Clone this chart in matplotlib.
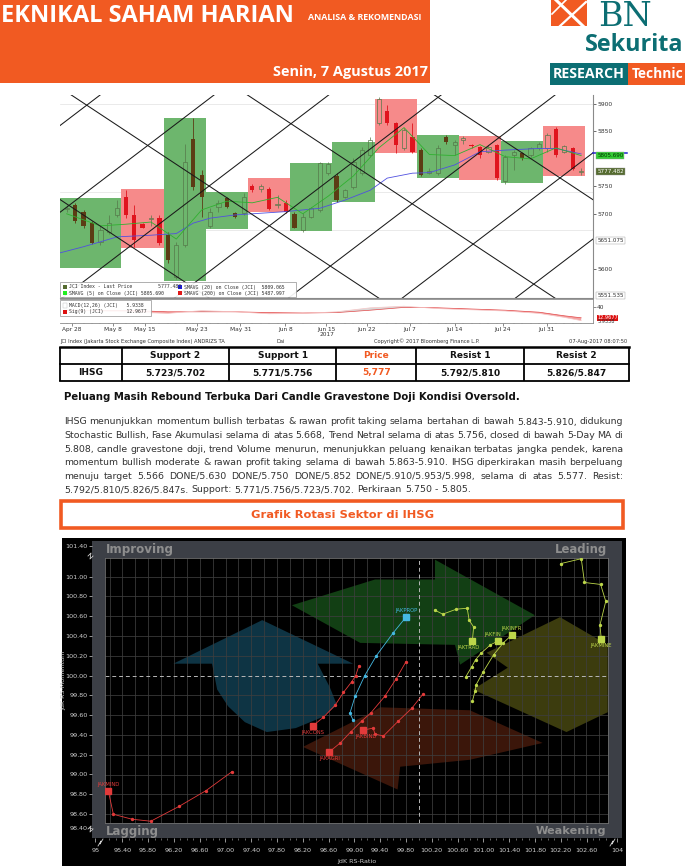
import numpy as np
import matplotlib
matplotlib.use("Agg")
import matplotlib.pyplot as plt
from matplotlib.patches import Rectangle, Polygon

W, H = 685, 866
ORANGE = "#f15a22"
TEAL = "#0c6e73"

# ---------------- IHSG daily candles (27 Apr - 7 Aug 2017), day index 0..61
opens = [5709, 5716, 5704, 5683, 5649, 5667, 5698, 5731, 5698, 5681, 5691, 5692, 5661, 5585, 5643, 5837,
         5771, 5677, 5713, 5728, 5701, 5701, 5751, 5746, 5745, 5716, 5719, 5700, 5670, 5695, 5707, 5775,
         5768, 5731, 5749, 5774, 5807, 5865, 5888, 5865, 5819, 5840, 5816, 5774, 5774, 5840, 5825, 5835,
         5826, 5821, 5813, 5825, 5759, 5807, 5810, 5807, 5819, 5819, 5854, 5813, 5819, 5776]
highs = [5716, 5719, 5707, 5686, 5677, 5698, 5725, 5743, 5716, 5683, 5698, 5698, 5667, 5649, 5828, 5874,
         5780, 5710, 5725, 5731, 5704, 5737, 5755, 5755, 5749, 5734, 5725, 5704, 5701, 5713, 5795, 5795,
         5774, 5746, 5801, 5822, 5840, 5913, 5898, 5868, 5856, 5865, 5819, 5783, 5825, 5843, 5834, 5842,
         5828, 5823, 5825, 5828, 5807, 5816, 5813, 5822, 5831, 5847, 5859, 5825, 5822, 5783]
lows = [5704, 5683, 5674, 5645, 5643, 5664, 5695, 5692, 5640, 5674, 5677, 5643, 5610, 5582, 5640, 5743,
        5695, 5674, 5704, 5710, 5692, 5698, 5740, 5740, 5707, 5710, 5702, 5674, 5667, 5692, 5704, 5770,
        5722, 5728, 5746, 5771, 5804, 5862, 5862, 5810, 5816, 5810, 5769, 5772, 5771, 5828, 5807, 5828,
        5819, 5801, 5810, 5762, 5755, 5780, 5798, 5804, 5816, 5813, 5804, 5810, 5780, 5771]
closes = [5711, 5686, 5677, 5646, 5670, 5683, 5710, 5698, 5652, 5675, 5692, 5646, 5616, 5643, 5795, 5749,
          5731, 5704, 5719, 5713, 5694, 5731, 5743, 5751, 5709, 5716, 5704, 5675, 5695, 5710, 5792, 5790,
          5725, 5743, 5795, 5816, 5834, 5910, 5865, 5825, 5853, 5813, 5771, 5778, 5819, 5830, 5831, 5838,
          5823, 5807, 5822, 5765, 5804, 5813, 5801, 5819, 5828, 5843, 5807, 5823, 5782, 5777]

# time/price zones
zone_edges = [-1.5, 6.5, 11.5, 16.5, 21.5, 26.5, 31.5, 36.5, 41.5, 46.5, 51.5, 56.5, 61.5]
zone_top = [5728, 5746, 5875, 5739, 5766, 5793, 5831, 5910, 5843, 5842, 5833, 5860]
zone_bottom = [5601, 5637, 5578, 5672, 5703, 5669, 5721, 5810, 5766, 5762, 5757, 5769]
zone_kind = ["up", "down", "up", "up", "down", "up", "up", "down", "up", "down", "up", "down"]

sma5_day = [0, 4, 7, 10, 13, 16, 19, 22, 25, 28, 31, 34, 37, 40, 43, 46, 49, 52, 55, 58, 61]
sma5 = [5700, 5678, 5681, 5685, 5654, 5707, 5723, 5720, 5730, 5700, 5732, 5769, 5820, 5857, 5808,
        5806, 5826, 5804, 5800, 5820, 5806]
sma20_day = [-1, 2, 6, 10, 13, 15, 17, 20, 23, 26, 28, 30, 33, 36, 38, 41, 43, 46, 49, 52, 56, 58, 61]
sma20 = [5628, 5640, 5658, 5661, 5664, 5683, 5692, 5698, 5701, 5704, 5707, 5710, 5725, 5743, 5765,
         5774, 5775, 5789, 5813, 5816, 5819, 5819, 5809]

# gann style trend lines: price at day 0 and slope (points per day)
gann_up_start = [5870, 5712, 5553, 5397, 5239, 5081, 4924]
gann_up_step = 11.7
gann_down_start = [5718, 5922, 6134, 6359]
gann_down_step = -10.15

macd_day = [0, 4, 8, 12, 16, 20, 24, 28, 32, 36, 40, 44, 48, 52, 56, 59, 61]
macd = [33, 30, 27, 24, 31, 28, 23, 24, 28, 38, 42, 36, 33, 30, 24, 14, 5.93]
macd_sig = [31, 31, 31, 28, 28, 28, 26, 25, 26, 32, 39, 38, 35, 32, 27, 18, 12.97]

date_day = [0.6, 5.5, 9.3, 15.4, 20.6, 25.9, 30.8, 35.6, 40.7, 46.0, 51.7, 56.9]
date_label = ["Apr 28", "May 8", "May 15", "May 23", "May 31", "Jun 8", "Jun 15", "Jun 22",
              "Jul 7", "Jul 14", "Jul 24", "Jul 31"]

# ---------------- table + text
table_head = ["", "Support 2", "Support 1", "Price", "Resist 1", "Resist 2"]
table_row = ["IHSG", "5.723/5.702", "5.771/5.756", "5,777", "5.792/5.810", "5.826/5.847"]

title = "Peluang Masih Rebound Terbuka Dari Candle Gravestone Doji Kondisi Oversold."
paragraph = [
    "IHSG menunjukkan momentum bullish terbatas & rawan profit taking selama bertahan di bawah 5.843-5.910, didukung",
    "Stochastic Bullish, Fase Akumulasi selama di atas 5.668, Trend Netral selama di atas 5.756, closed di bawah 5-Day MA di",
    "5.808, candle gravestone doji, trend Volume menurun, menunjukkan peluang kenaikan terbatas jangka pendek, karena",
    "momentum bullish moderate & rawan profit taking selama di bawah 5.863-5.910. IHSG diperkirakan masih berpeluang",
    "menuju target 5.566 DONE/5.630 DONE/5.750 DONE/5.852 DONE/5.910/5.953/5.998, selama di atas 5.577. Resist:",
    "5.792/5.810/5.826/5.847s. Support: 5.771/5.756/5.723/5.702. Perkiraan 5.750 - 5.805.",
]

# ---------------- sector rotation (JdK RS-Ratio, JdK RS-Momentum), oldest -> latest
prop_x = [98.98, 98.93, 99.01, 99.16, 99.34, 99.60, 99.80]
prop_y = [99.55, 99.62, 99.79, 100.00, 100.20, 100.43, 100.59]
cons_x = [99.07, 99.02, 98.96, 98.83, 98.70, 98.52, 98.35]
cons_y = [100.10, 100.00, 99.94, 99.83, 99.70, 99.58, 99.49]
bind_x = [100.06, 99.89, 99.68, 99.45, 99.32, 99.29, 99.14]
bind_y = [99.81, 99.67, 99.54, 99.39, 99.41, 99.47, 99.45]
agri_x = [99.80, 99.65, 99.47, 99.25, 99.11, 98.94, 98.78, 98.61]
agri_y = [100.14, 99.97, 99.79, 99.62, 99.54, 99.43, 99.32, 99.23]
mind_x = [97.10, 96.70, 96.28, 95.84, 95.55, 95.26, 95.18]
mind_y = [99.03, 98.84, 98.68, 98.53, 98.55, 98.60, 98.84]
mine_x = [102.20, 102.52, 102.57, 102.82, 102.90, 102.81, 102.83]
mine_y = [101.13, 101.18, 100.94, 100.92, 100.75, 100.51, 100.37]
trad_x = [100.25, 100.37, 100.58, 100.75, 100.78, 100.85, 100.83]
trad_y = [100.66, 100.62, 100.67, 100.68, 100.56, 100.49, 100.35]
fin_x = [100.73, 100.82, 100.88, 100.97, 101.11, 101.23]
fin_y = [99.99, 100.09, 100.16, 100.23, 100.31, 100.35]
infr_x = [100.83, 100.87, 100.89, 101.00, 101.16, 101.31, 101.44]
infr_y = [99.74, 99.84, 99.91, 100.04, 100.21, 100.33, 100.41]

RED, CYAN, LIME = "#e23a3a", "#45b9e3", "#bcd64a"
sectors = [
    ("JAKPROP", prop_x, prop_y, CYAN, (0, 4.5)),
    ("JAKCONS", cons_x, cons_y, RED, (0, -4.5)),
    ("JAKBIND", bind_x, bind_y, RED, (2, -4.5)),
    ("JAKAGRI", agri_x, agri_y, RED, (0, -4.5)),
    ("JAKMIND", mind_x, mind_y, RED, (0, 4.5)),
    ("JAKMINE", mine_x, mine_y, LIME, (0, -4.5)),
    ("JAKTRAD", trad_x, trad_y, LIME, (-3, -4.5)),
    ("JAKFIN", fin_x, fin_y, LIME, (-4, 4.5)),
    ("JAKINFR", infr_x, infr_y, LIME, (0, 4.5)),
]

# background rotation arrows (RS-Ratio, RS-Momentum)
arrow_green = [(98.03, 100.71), (99.32, 100.97), (100.25, 100.97), (100.25, 101.17), (101.80, 100.61),
               (100.64, 100.11), (100.56, 100.31), (99.09, 100.33)]
arrow_blue = [(96.19, 100.12), (97.57, 100.56), (98.98, 100.12), (98.43, 100.12), (98.62, 99.88),
              (98.73, 99.70), (98.50, 99.58), (98.09, 99.47), (97.64, 99.43), (97.30, 99.53),
              (97.04, 99.69), (96.87, 99.86), (96.79, 100.12)]
arrow_yellow = [(102.19, 100.59), (102.93, 100.31), (102.93, 99.63), (102.29, 99.43), (100.84, 99.86),
                (101.38, 100.08), (101.05, 100.23)]
arrow_red = [(98.20, 99.28), (99.27, 99.63), (99.40, 99.68), (100.79, 99.65), (101.92, 99.32),
             (100.79, 99.15), (99.71, 99.08), (99.67, 98.85)]

fig = plt.figure(figsize=(W / 100, H / 100), dpi=100)


def px_axes(x0, y0, x1, y1):
    return fig.add_axes([x0 / W, 1 - y1 / H, (x1 - x0) / W, (y1 - y0) / H])


bg = px_axes(0, 0, W, H)
bg.set_xlim(0, W)
bg.set_ylim(H, 0)
bg.axis("off")
bg.add_patch(Rectangle((0, 0), 430, 83, color=ORANGE, lw=0))
bg.add_patch(Rectangle((550, 63), 78, 22, color=TEAL, lw=0))
bg.add_patch(Rectangle((628, 63), 57, 22, color=ORANGE, lw=0))
bg.add_patch(Rectangle((551, 0), 36, 26, color=ORANGE, lw=0))
bg.plot([556, 583], [0, 26], color="white", lw=2.2)
bg.plot([586, 560], [2, 26], color="white", lw=1.6)
bg.plot([566, 552], [0, 14], color="white", lw=1.2)
bg.add_patch(Rectangle((62, 538), 564, 328, color="black", lw=0))

# ---------------- candlestick chart
ax = px_axes(60, 95, 593, 298)
axm = px_axes(60, 299, 593, 323)
ax.set_xlim(-0.79, 62.4)
ax.set_ylim(5546.6, 5916.4)

for i in range(len(zone_top)):
    col = "#6db66d" if zone_kind[i] == "up" else "#f68a8a"
    ax.add_patch(Rectangle((zone_edges[i], zone_bottom[i]), zone_edges[i + 1] - zone_edges[i],
                           zone_top[i] - zone_bottom[i], facecolor=col, lw=0, zorder=1))

for lvl in [5900, 5739, 5670]:
    ax.axhline(lvl, color="#e2e2e2", lw=0.5, zorder=0.5)

days = np.arange(len(closes))
zone_idx = np.searchsorted(zone_edges, days) - 1
for d in days:
    o, h, l, c = opens[d], highs[d], lows[d], closes[d]
    lo, hi = min(o, c), max(o, c)
    if hi - lo < 1.5:
        hi = lo + 1.5
    if c < o:
        col = "#5c3c14" if zone_kind[zone_idx[d]] == "up" else "#e0141e"
        ax.vlines(d, l, h, color=col, lw=0.6, zorder=3)
        ax.bar(d, hi - lo, bottom=lo, width=0.5, color=col, lw=0, zorder=3)
    else:
        col = "#55784a"
        ax.vlines(d, l, lo, color=col, lw=0.5, zorder=3)
        ax.vlines(d, hi, h, color=col, lw=0.5, zorder=3)
        ax.bar(d, hi - lo, bottom=lo, width=0.5, facecolor="none", edgecolor=col, lw=0.5, zorder=3)

ax.plot(sma20_day, sma20, color="#5050e0", lw=0.6, zorder=4)
ax.plot(sma5_day, sma5, color="#30b030", lw=0.6, zorder=4)

gx = np.array([-2, 64])
for p0 in gann_up_start:
    ax.plot(gx, p0 + gann_up_step * gx, color="#1a1a1a", lw=0.75, zorder=5)
for p0 in gann_down_start:
    ax.plot(gx, p0 + gann_down_step * gx, color="#1a1a1a", lw=0.75, zorder=5)

for s in ["top", "left"]:
    ax.spines[s].set_visible(False)
ax.spines["bottom"].set_color("#8a8a8a")
ax.spines["right"].set_color("#8a8a8a")
ax.yaxis.tick_right()
ax.set_yticks([5600, 5700, 5750, 5850, 5900])
ax.set_xticks([])
ax.tick_params(axis="y", labelsize=4.3, length=2, width=0.5, pad=1, colors="#333333")

tags = [(5809.065, "", "#2020d0", "white"), (5805.690, "5805.690", "#33cc33", "#003300"),
        (5777.482, "5777.482", "#556b2f", "white"), (5651.075, "5651.075", "white", "#333333"),
        (5551.535, "5551.535", "white", "#333333")]
for val, txt, fc, tc in tags:
    if txt:
        ax.text(1.008, val, txt, transform=ax.get_yaxis_transform(), fontsize=4.1, color=tc,
                va="center", ha="left", clip_on=False, zorder=6,
                bbox=dict(boxstyle="square,pad=0.15", fc=fc, ec="#999999", lw=0.3))
    else:
        ax.plot([1.0, 1.063], [val + 2.5, val + 2.5], transform=ax.get_yaxis_transform(), color=fc,
                lw=1.1, clip_on=False, zorder=6)

# MACD pane
axm.set_xlim(-0.79, 62.4)
axm.set_ylim(0, 60)
md = np.array(macd)
ms = np.array(macd_sig)
axm.fill_between(macd_day, md, ms, where=md >= ms, interpolate=True, color="#d9d9d9", lw=0)
axm.fill_between(macd_day, md, ms, where=md < ms, interpolate=True, color="#f3a3a3", lw=0)
axm.plot(macd_day, ms, color="#e24848", lw=0.5)
axm.plot(macd_day, md, color="#f6c6c6", lw=0.5)
axm.spines["left"].set_visible(False)
for s in ["top", "right", "bottom"]:
    axm.spines[s].set_color("#8a8a8a")
    axm.spines[s].set_linewidth(0.6)
axm.yaxis.tick_right()
axm.set_yticks([40])
axm.set_xticks(date_day)
axm.set_xticklabels(date_label)
axm.set_xticks(np.arange(0, 62, 1), minor=True)
axm.tick_params(axis="x", which="major", labelsize=4.2, length=1.8, width=0.4, pad=1, colors="#333333")
axm.tick_params(axis="x", which="minor", length=1.0, width=0.3, colors="#666666")
axm.tick_params(axis="y", labelsize=4.2, length=1.8, width=0.4, pad=1, colors="#333333")
axm.text(1.008, 12.97, "12.9677", transform=axm.get_yaxis_transform(), fontsize=3.6, color="white",
         va="center", clip_on=False, bbox=dict(boxstyle="square,pad=0.1", fc="#dd1111", ec="none"))
axm.text(1.008, 3.2, "5.9338", transform=axm.get_yaxis_transform(), fontsize=3.6, color="#333333",
         va="center", clip_on=False)

# ---------------- sector rotation graph
rt = px_axes(92, 541, 622, 838)
rt.set_facecolor("#3c3f46")
rt.set_xlim(94.93, 103.15)
rt.set_ylim(98.357, 101.36)
for s in rt.spines.values():
    s.set_visible(False)
xt = [94.98] + [round(95.4 + 0.4 * i, 2) for i in range(19)] + [103.07]
xl = ["95"] + ["%.2f" % v for v in xt[1:-1]] + ["104"]
rt.set_xticks(xt)
rt.set_xticklabels(xl)
rt.set_xticks(np.arange(95.2, 103.0, 0.1), minor=True)
yt = [98.46] + [round(98.6 + 0.2 * i, 2) for i in range(13)] + [101.31]
yl = ["98.40"] + ["%.2f" % v for v in yt[1:-1]] + ["101.40"]
rt.set_yticks(yt)
rt.set_yticklabels(yl)
rt.tick_params(axis="x", which="major", labelsize=4.6, length=3, width=0.5, pad=4.5, colors="#d0d0d0")
rt.tick_params(axis="x", which="minor", length=1.6, width=0.4, colors="#b0b0b0")
rt.tick_params(axis="y", labelsize=4.6, length=2.2, width=0.5, pad=1, colors="#d0d0d0")

rx = px_axes(105, 557.7, 607.7, 822.7)
rx.set_facecolor("black")
rx.set_xlim(95.13, 102.93)
rx.set_ylim(98.515, 101.19)
rx.set_xticks([])
rx.set_yticks([])
for s in rx.spines.values():
    s.set_color("#6e6e6e")
    s.set_linewidth(0.6)

for poly, col in [(arrow_green, "#123f14"), (arrow_blue, "#0e3444"), (arrow_yellow, "#3c3c0e"),
                  (arrow_red, "#3b160a")]:
    rx.add_patch(Polygon(poly, closed=True, facecolor=col, lw=0, zorder=0.5))

for v in np.arange(95.2, 102.95, 0.2):
    if abs(v - 100) > 0.01:
        rx.axvline(v, color="#3e3e3e", lw=0.55, zorder=1)
for v in np.arange(98.6, 101.19, 0.2):
    if abs(v - 100) > 0.01:
        rx.axhline(v, color="#3e3e3e", lw=0.55, zorder=1)
rx.axvline(100, color="#b8b8b8", lw=0.7, ls=(0, (4, 3)), zorder=1.5)
rx.axhline(100, color="#b8b8b8", lw=0.7, ls=(0, (4, 3)), zorder=1.5)

for name, xs, ys, col, off in sectors:
    rx.plot(xs, ys, color=col, lw=0.6, marker="o", ms=1.4, zorder=3)
    rx.plot(xs[-1], ys[-1], marker="s", ms=4.2, color=col, mec=col, zorder=4)
    rx.annotate(name, (xs[-1], ys[-1]), xytext=off, textcoords="offset points", ha="center",
                va="center", fontsize=3.8, color=col, zorder=5)

# ---------------- overlay (texts on the page)
ov = px_axes(0, 0, W, H)
ov.set_xlim(0, W)
ov.set_ylim(H, 0)
ov.axis("off")
ov.set_zorder(10)
rend = fig.canvas.get_renderer()


def fit(t, width):
    w = t.get_window_extent(rend).width
    t.set_fontsize(t.get_fontsize() * width / w)
    return t


fit(ov.text(1, 16, "EKNIKAL SAHAM HARIAN", color="white", fontweight="bold", fontsize=16,
            va="center", family="Open Sans"), 294)
fit(ov.text(308, 17.5, "ANALISA & REKOMENDASI", color="white", fontweight="bold", fontsize=5,
            va="center", family="Open Sans"), 115)
fit(ov.text(428, 72, "Senin, 7 Agustus 2017", color="white", fontweight="bold", fontsize=9,
            va="center", ha="right", family="Open Sans"), 155)
ov.text(598, 26, "BN", color=TEAL, fontsize=24, family="DejaVu Serif", va="baseline")
fit(ov.text(585, 45, "Sekurita", color=TEAL, fontweight="bold", fontsize=16, va="center",
            family="Open Sans"), 99)
fit(ov.text(553, 74.5, "RESEARCH", color="white", fontweight="bold", fontsize=8, va="center",
            family="Open Sans"), 72)
fit(ov.text(632, 74.5, "Technic", color="white", fontweight="bold", fontsize=8, va="center",
            family="Open Sans"), 52)

# chart legends
ov.add_patch(Rectangle((60.5, 282), 236, 15, facecolor="white", edgecolor="#9a9a9a", lw=0.6, alpha=0.92))
leg = [(63, 287, "#556b2f", "JCI Index - Last Price         5777.482"),
       (178, 287, "#1c1cd8", "SMAVG (20) on Close (JCI)  5809.065"),
       (63, 293, "#22ee22", "SMAVG (5) on Close (JCI) 5805.690"),
       (178, 293, "#e01818", "SMAVG (200) on Close (JCI) 5487.997")]
for x, y, c, s in leg:
    ov.add_patch(Rectangle((x, y - 2.3), 4.5, 4.5, color=c, lw=0))
    ov.text(x + 6.5, y, s, fontsize=3.5, family="DejaVu Sans Mono", va="center", color="#333333")
ov.add_patch(Rectangle((60.5, 300), 91, 16, facecolor="white", edgecolor="#9a9a9a", lw=0.6, alpha=0.9))
ov.add_patch(Rectangle((63, 303.2), 4.5, 4.5, facecolor="white", edgecolor="#bbbbbb", lw=0.3))
ov.text(69.5, 305.5, "MACD(12,26) (JCI)   5.9338", fontsize=3.4, family="DejaVu Sans Mono", va="center",
        color="#333333")
ov.add_patch(Rectangle((63, 309.7), 4.5, 4.5, color="#dd1111", lw=0))
ov.text(69.5, 312, "Sig(9) (JCI)        12.9677", fontsize=3.4, family="DejaVu Sans Mono", va="center",
        color="#333333")
ov.text(327, 334, "2017", fontsize=4.2, ha="center", va="center", color="#333333")
cap = dict(fontsize=3.7, va="center", color="#333333")
ov.text(60, 341.5, "JCI Index (Jakarta Stock Exchange Composite Index) ANDRIZS TA", **cap)
ov.text(277, 341.5, "Dai", **cap)
ov.text(374, 341.5, "Copyright\u00a9 2017 Bloomberg Finance L.P.", **cap)
ov.text(627, 341.5, "07-Aug-2017 08:07:50", ha="right", **cap)

# table
col_x = [60, 121.6, 229, 336.5, 416, 524.3, 629]
ty = [347, 364, 381]
for x in col_x:
    ov.plot([x, x], [ty[0], ty[2]], color="black", lw=1.3, solid_capstyle="butt")
for y in ty:
    ov.plot([col_x[0], col_x[-1]], [y, y], color="black", lw=1.3 if y != ty[0] else 1.8)
probe = ov.text(0, 0, "Support 2", fontweight="bold", fontsize=8)
fit(probe, 50)
tsize = probe.get_fontsize()
probe.remove()
for i in range(1, 6):
    cx = (col_x[i] + col_x[i + 1]) / 2
    c = ORANGE if table_head[i] == "Price" else "#111111"
    ov.text(cx, 356, table_head[i], ha="center", va="center", fontweight="bold", fontsize=tsize, color=c)
for i in range(6):
    cx = (col_x[i] + col_x[i + 1]) / 2
    c = ORANGE if i == 3 else "#111111"
    ov.text(cx, 372.5, table_row[i], ha="center", va="center", fontweight="bold", fontsize=tsize, color=c)

# title + justified paragraph
fit(ov.text(64, 397, title, fontweight="bold", fontsize=8, va="center", color="#111111"), 456)


def justified(lines, x0, x1, y0, dy, size):
    for n, line in enumerate(lines):
        words = line.split(" ")
        ts = [ov.text(0, y0 + n * dy, w, fontsize=size, va="center", color="#333333") for w in words]
        ws = [t.get_window_extent(rend).width for t in ts]
        gap = (x1 - x0 - sum(ws)) / (len(words) - 1) if n < len(lines) - 1 else size * 0.45
        x = x0
        for t, w in zip(ts, ws):
            t.set_x(x)
            x += w + gap


justified(paragraph, 64, 623, 422, 13.6, 6.75)

ov.add_patch(Rectangle((61.5, 500.5), 562, 27.5, facecolor="white", edgecolor=ORANGE, lw=2.6))
fit(ov.text(343, 514.5, "Grafik Rotasi Sektor di IHSG", fontweight="bold", fontsize=9, ha="center",
            va="center", color=ORANGE), 181)

# RRG quadrant names and axis titles
q = dict(fontweight="bold", color="#8e8e8e", va="center")
fit(ov.text(106, 550, "Improving", **q, fontsize=10), 68)
fit(ov.text(607, 550, "Leading", ha="right", **q, fontsize=10), 52)
fit(ov.text(106, 831, "Lagging", **q, fontsize=10), 53)
fit(ov.text(606, 831, "Weakening", ha="right", **q, fontsize=10), 70)
ov.text(64, 680, "JdK RS-Momentum", rotation=90, fontsize=4.6, color="#c8c8c8", ha="center", va="center")
ov.text(357, 861, "JdK RS-Ratio", fontsize=4.6, color="#c8c8c8", ha="center", va="center")
zz = dict(color="#d0d0d0", lw=0.6)
ov.plot([88, 91, 90, 93], [556, 553, 559, 556], **zz)
ov.plot([88, 91, 90, 93], [829, 826, 832, 829], **zz)
ov.plot([98, 101, 100, 103], [846, 841, 844, 839], **zz)
ov.plot([610, 613, 612, 615], [846, 841, 844, 839], **zz)

fig.savefig("out.png", dpi=100)
